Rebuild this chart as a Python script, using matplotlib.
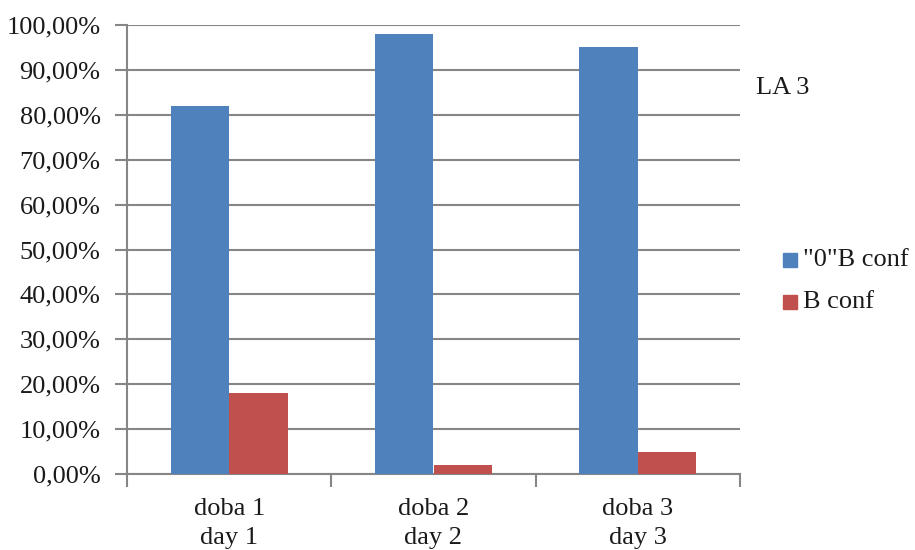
import matplotlib
matplotlib.use("Agg")
import matplotlib.pyplot as plt
from matplotlib.patches import Rectangle
import numpy as np

categories = ["doba 1\nday 1", "doba 2\nday 2", "doba 3\nday 3"]
zero_b_conf = [82.0, 98.0, 95.0]
b_conf = [18.0, 2.0, 5.0]
series_names = ['"0"B conf', "B conf"]
chart_title = "LA 3"
y_ticks = [0, 10, 20, 30, 40, 50, 60, 70, 80, 90, 100]

plt.rcParams["font.family"] = ["Liberation Serif", "DejaVu Serif"]

W, H = 915, 550
fig = plt.figure(figsize=(W / 100, H / 100), dpi=100)
ax = fig.add_axes([127 / W, 1 - 474 / H, (740 - 127) / W, (474 - 25) / H])

blue = "#4F81BD"
red = "#C0504D"
grid_c = "#868686"
txt_c = "#1a1a1a"
fs = 19

x = np.arange(len(categories))
bw = 1 / 3.5
ax.bar(x - bw / 2, zero_b_conf, bw, color=blue, zorder=3)
ax.bar(x + bw / 2, b_conf, bw, color=red, zorder=3)

ax.set_xlim(-0.5, len(categories) - 0.5)
ax.set_ylim(0, 100)
ax.set_yticks(y_ticks)
ax.set_yticklabels([f"{v:.2f}".replace(".", ",") + "%" for v in y_ticks])
ax.yaxis.grid(True, color=grid_c, linewidth=1.5, zorder=0)
ax.tick_params(axis="y", length=9, width=1.5, color=grid_c, labelsize=fs,
               pad=10, labelcolor=txt_c)

# category labels centred, tick marks on group boundaries
ax.set_xticks(x)
ax.set_xticklabels(categories, fontsize=fs, color=txt_c, linespacing=1.45)
ax.tick_params(axis="x", length=0, pad=17)
ax.set_xticks(np.arange(-0.5, len(categories), 1), minor=True)
ax.tick_params(axis="x", which="minor", length=9, width=1.5, color=grid_c)

for s in ["top", "right"]:
    ax.spines[s].set_visible(False)
for s in ["left", "bottom"]:
    ax.spines[s].set_color(grid_c)
    ax.spines[s].set_linewidth(1.5)

fig.text(756 / W, 1 - 88 / H, chart_title, fontsize=fs, va="center",
         ha="left", color=txt_c)

for i, (name, col) in enumerate(zip(series_names, [blue, red])):
    yc = 260 + i * 42
    fig.patches.append(Rectangle((783 / W, 1 - (yc + 7) / H), 14 / W, 14 / H,
                                 transform=fig.transFigure, color=col))
    fig.text(803 / W, 1 - yc / H, name, fontsize=fs, va="center",
             ha="left", color=txt_c)

fig.savefig("out.png", dpi=100)
